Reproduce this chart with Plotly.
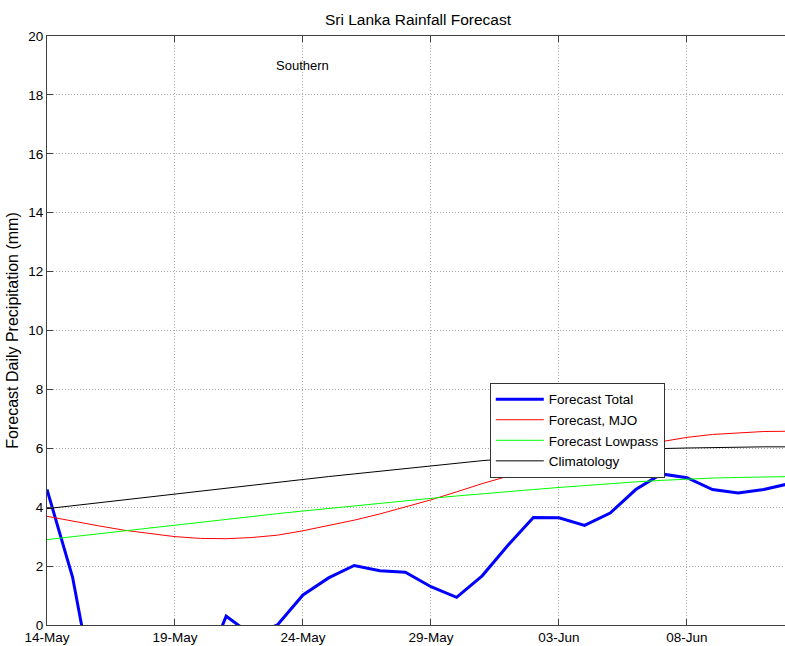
import plotly.graph_objects as go

dates = ["2014-05-14", "2014-05-15", "2014-05-16", "2014-05-17", "2014-05-18",
         "2014-05-19", "2014-05-20", "2014-05-21", "2014-05-22", "2014-05-23",
         "2014-05-24", "2014-05-25", "2014-05-26", "2014-05-27", "2014-05-28",
         "2014-05-29", "2014-05-30", "2014-05-31", "2014-06-01", "2014-06-02",
         "2014-06-03", "2014-06-04", "2014-06-05", "2014-06-06", "2014-06-07",
         "2014-06-08", "2014-06-09", "2014-06-10", "2014-06-11", "2014-06-12"]

forecast_total = [4.6, 1.62, -3.0, -2.6, -2.3, -2.0, -1.84, 0.3, -0.34, 0.0,
                  1.02, 1.6, 2.02, 1.84, 1.79, 1.3, 0.94, 1.67, 2.7, 3.65,
                  3.64, 3.38, 3.8, 4.6, 5.13, 5.0, 4.6, 4.48, 4.6, 4.8]

forecast_mjo = [3.69, 3.52, 3.37, 3.22, 3.1, 3.0, 2.94, 2.93, 2.97, 3.05,
                3.2, 3.37, 3.56, 3.77, 4.0, 4.25, 4.52, 4.8, 5.05, 5.27,
                5.46, 5.68, 5.9, 6.08, 6.23, 6.37, 6.47, 6.53, 6.57, 6.58]

forecast_lowpass = [2.9, 3.0, 3.1, 3.2, 3.3, 3.4, 3.5, 3.59, 3.69, 3.78,
                    3.87, 3.96, 4.05, 4.14, 4.22, 4.3, 4.38, 4.46, 4.53, 4.6,
                    4.67, 4.74, 4.8, 4.86, 4.91, 4.96, 4.99, 5.01, 5.03, 5.04]

climatology = [3.95, 4.05, 4.15, 4.25, 4.36, 4.46, 4.56, 4.66, 4.76, 4.86,
               4.95, 5.04, 5.13, 5.22, 5.31, 5.42, 5.51, 5.58, 5.65, 5.72,
               5.78, 5.84, 5.9, 5.95, 5.99, 6.01, 6.03, 6.04, 6.05, 6.05]

x_tick_vals = ["2014-05-14", "2014-05-19", "2014-05-24", "2014-05-29", "2014-06-03", "2014-06-08"]
x_tick_text = ["14-May", "19-May", "24-May", "29-May", "03-Jun", "08-Jun"]
y_tick_vals = [0, 2, 4, 6, 8, 10, 12, 14, 16, 18, 20]

FONT = "Liberation Sans, Arial, Helvetica, sans-serif"
GRID = "#a8a8a8"
AXIS = "#404040"

fig = go.Figure()
fig.add_trace(go.Scatter(x=dates, y=forecast_total, mode="lines", name="Forecast Total",
                         line=dict(color="#0000ff", width=3)))
fig.add_trace(go.Scatter(x=dates, y=forecast_mjo, mode="lines", name="Forecast, MJO",
                         line=dict(color="#ff0000", width=1)))
fig.add_trace(go.Scatter(x=dates, y=forecast_lowpass, mode="lines", name="Forecast Lowpass",
                         line=dict(color="#00ff00", width=1)))
fig.add_trace(go.Scatter(x=dates, y=climatology, mode="lines", name="Climatology",
                         line=dict(color="#000000", width=1)))

fig.update_layout(
    width=785, height=646,
    margin=dict(l=47, r=0, t=36, b=21),
    paper_bgcolor="white", plot_bgcolor="white",
    font=dict(family=FONT, size=13.5, color="black"),
    title=dict(text="Sri Lanka Rainfall Forecast", x=418 / 785, xanchor="center",
               y=1 - 20 / 646, yanchor="middle", font=dict(size=15.5, family=FONT)),
    showlegend=True,
    legend=dict(x=0.6, y=0.411, xanchor="left", yanchor="top",
                bgcolor="white", bordercolor="#333333", borderwidth=1,
                font=dict(size=13.5, family=FONT), tracegroupgap=0, itemwidth=48),
    xaxis=dict(type="date", range=["2014-05-14", "2014-06-11 19:55"],
               tickvals=x_tick_vals, ticktext=x_tick_text,
               showgrid=True, gridcolor=GRID, griddash="1px,2px", gridwidth=1,
               showline=True, linecolor=AXIS, linewidth=1, mirror="ticks",
               ticks="inside", ticklen=6, tickcolor=AXIS,
               zeroline=False, tickfont=dict(size=13.5)),
    yaxis=dict(range=[0, 20], tickvals=y_tick_vals,
               showgrid=True, gridcolor=GRID, griddash="1px,2px", gridwidth=1,
               showline=True, linecolor=AXIS, linewidth=1, mirror=False,
               ticks="inside", ticklen=6, tickcolor=AXIS,
               zeroline=False, tickfont=dict(size=13.5),
               title=dict(text="Forecast Daily Precipitation (mm)", font=dict(size=16), standoff=5)),
    annotations=[dict(text="Southern", x="2014-05-24", y=19.0, xref="x", yref="y",
                      showarrow=False, font=dict(size=13, family=FONT))],
)

fig.write_html("out.html", config={"displayModeBar": False},
               post_script="document.body.style.margin='0';document.body.style.overflow='hidden';")
